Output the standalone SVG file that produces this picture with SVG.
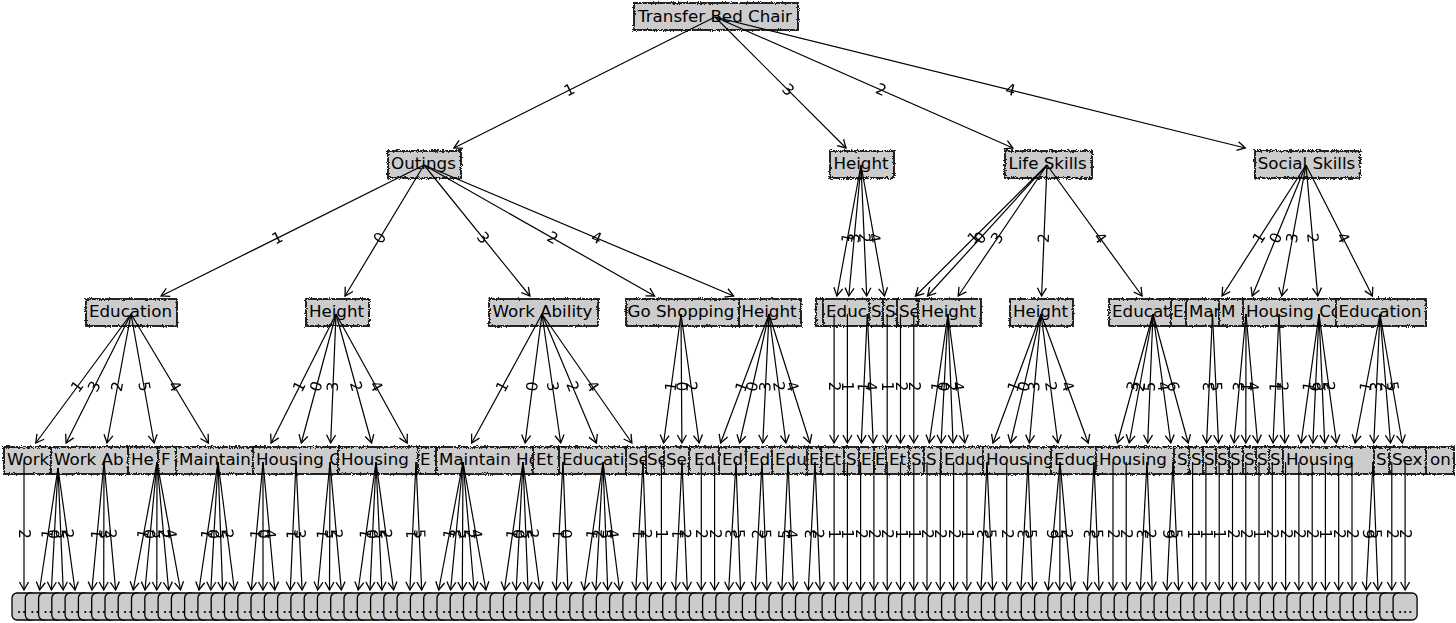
<svg xmlns="http://www.w3.org/2000/svg" xmlns:xlink="http://www.w3.org/1999/xlink" width="1456" height="623" viewBox="0 0 1456 623">
<style>
.nb rect{fill:#cccccc;stroke:#111;stroke-width:1.8;filter:url(#wv)}
.nb text{font-family:'DejaVu Sans',sans-serif;font-size:16.7px;fill:#000}
.nb text.c{text-anchor:middle}
#connectors line{stroke:#000;stroke-width:1.2;fill:none;marker-end:url(#ah)}
#edge-labels{filter:url(#noop)}
#edge-labels text{font-family:'DejaVu Sans',sans-serif;font-size:15.5px;text-anchor:middle;dominant-baseline:central;fill:#000}
</style>
<defs>
<filter id="wv" x="-30%" y="-25%" width="160%" height="150%">
<feTurbulence type="turbulence" baseFrequency="0.45" numOctaves="1" seed="5" result="t"/>
<feDisplacementMap in="SourceGraphic" in2="t" scale="3" xChannelSelector="R" yChannelSelector="G"/>
</filter>
<filter id="noop" x="0" y="0" width="1" height="1"><feOffset dx="0" dy="0"/></filter>
<marker id="ah" viewBox="-10 -6 12 12" markerWidth="12" markerHeight="12" refX="0" refY="0" orient="auto" markerUnits="userSpaceOnUse">
<path d="M-8,-4.5 L0,0 L-8,4.5" fill="none" stroke="#000" stroke-width="1.3"/>
</marker>
<g id="lf">
<rect x="-12" y="593" width="24" height="27" rx="5" fill="#cccccc" stroke="#000" stroke-width="1.3"/>
<text x="0" y="613" font-family="DejaVu Sans, sans-serif" font-size="16" text-anchor="middle">...</text>
</g>
</defs>
<rect width="1456" height="623" fill="#fff"/>

<g id="leaves">
<use id="leaf000" href="#lf" x="24"/><use id="leaf001" href="#lf" x="37.3"/><use id="leaf002" href="#lf" x="50.6"/><use id="leaf003" href="#lf" x="63.8"/><use id="leaf004" href="#lf" x="77.1"/>
<use id="leaf005" href="#lf" x="90.4"/><use id="leaf006" href="#lf" x="103.7"/><use id="leaf007" href="#lf" x="117"/><use id="leaf008" href="#lf" x="130.2"/><use id="leaf009" href="#lf" x="143.5"/>
<use id="leaf010" href="#lf" x="156.8"/><use id="leaf011" href="#lf" x="170.1"/><use id="leaf012" href="#lf" x="183.4"/><use id="leaf013" href="#lf" x="196.6"/><use id="leaf014" href="#lf" x="209.9"/>
<use id="leaf015" href="#lf" x="223.2"/><use id="leaf016" href="#lf" x="236.5"/><use id="leaf017" href="#lf" x="249.8"/><use id="leaf018" href="#lf" x="263"/><use id="leaf019" href="#lf" x="276.3"/>
<use id="leaf020" href="#lf" x="289.6"/><use id="leaf021" href="#lf" x="302.9"/><use id="leaf022" href="#lf" x="316.2"/><use id="leaf023" href="#lf" x="329.4"/><use id="leaf024" href="#lf" x="342.7"/>
<use id="leaf025" href="#lf" x="356"/><use id="leaf026" href="#lf" x="369.3"/><use id="leaf027" href="#lf" x="382.6"/><use id="leaf028" href="#lf" x="395.8"/><use id="leaf029" href="#lf" x="409.1"/>
<use id="leaf030" href="#lf" x="422.4"/><use id="leaf031" href="#lf" x="435.7"/><use id="leaf032" href="#lf" x="449"/><use id="leaf033" href="#lf" x="462.2"/><use id="leaf034" href="#lf" x="475.5"/>
<use id="leaf035" href="#lf" x="488.8"/><use id="leaf036" href="#lf" x="502.1"/><use id="leaf037" href="#lf" x="515.4"/><use id="leaf038" href="#lf" x="528.6"/><use id="leaf039" href="#lf" x="541.9"/>
<use id="leaf040" href="#lf" x="555.2"/><use id="leaf041" href="#lf" x="568.5"/><use id="leaf042" href="#lf" x="581.8"/><use id="leaf043" href="#lf" x="595"/><use id="leaf044" href="#lf" x="608.3"/>
<use id="leaf045" href="#lf" x="621.6"/><use id="leaf046" href="#lf" x="634.9"/><use id="leaf047" href="#lf" x="648.2"/><use id="leaf048" href="#lf" x="661.4"/><use id="leaf049" href="#lf" x="674.7"/>
<use id="leaf050" href="#lf" x="688"/><use id="leaf051" href="#lf" x="701.3"/><use id="leaf052" href="#lf" x="714.6"/><use id="leaf053" href="#lf" x="727.8"/><use id="leaf054" href="#lf" x="741.1"/>
<use id="leaf055" href="#lf" x="754.4"/><use id="leaf056" href="#lf" x="767.7"/><use id="leaf057" href="#lf" x="781"/><use id="leaf058" href="#lf" x="794.2"/><use id="leaf059" href="#lf" x="807.5"/>
<use id="leaf060" href="#lf" x="820.8"/><use id="leaf061" href="#lf" x="834.1"/><use id="leaf062" href="#lf" x="847.4"/><use id="leaf063" href="#lf" x="860.6"/><use id="leaf064" href="#lf" x="873.9"/>
<use id="leaf065" href="#lf" x="887.2"/><use id="leaf066" href="#lf" x="900.5"/><use id="leaf067" href="#lf" x="913.8"/><use id="leaf068" href="#lf" x="927"/><use id="leaf069" href="#lf" x="940.3"/>
<use id="leaf070" href="#lf" x="953.6"/><use id="leaf071" href="#lf" x="966.9"/><use id="leaf072" href="#lf" x="980.2"/><use id="leaf073" href="#lf" x="993.4"/><use id="leaf074" href="#lf" x="1006.7"/>
<use id="leaf075" href="#lf" x="1020"/><use id="leaf076" href="#lf" x="1033.3"/><use id="leaf077" href="#lf" x="1046.6"/><use id="leaf078" href="#lf" x="1059.8"/><use id="leaf079" href="#lf" x="1073.1"/>
<use id="leaf080" href="#lf" x="1086.4"/><use id="leaf081" href="#lf" x="1099.7"/><use id="leaf082" href="#lf" x="1113"/><use id="leaf083" href="#lf" x="1126.2"/><use id="leaf084" href="#lf" x="1139.5"/>
<use id="leaf085" href="#lf" x="1152.8"/><use id="leaf086" href="#lf" x="1166.1"/><use id="leaf087" href="#lf" x="1179.4"/><use id="leaf088" href="#lf" x="1192.6"/><use id="leaf089" href="#lf" x="1205.9"/>
<use id="leaf090" href="#lf" x="1219.2"/><use id="leaf091" href="#lf" x="1232.5"/><use id="leaf092" href="#lf" x="1245.8"/><use id="leaf093" href="#lf" x="1259"/><use id="leaf094" href="#lf" x="1272.3"/>
<use id="leaf095" href="#lf" x="1285.6"/><use id="leaf096" href="#lf" x="1298.9"/><use id="leaf097" href="#lf" x="1312.2"/><use id="leaf098" href="#lf" x="1325.4"/><use id="leaf099" href="#lf" x="1338.7"/>
<use id="leaf100" href="#lf" x="1352"/><use id="leaf101" href="#lf" x="1365.3"/><use id="leaf102" href="#lf" x="1378.6"/><use id="leaf103" href="#lf" x="1391.8"/><use id="leaf104" href="#lf" x="1405.1"/>
</g>

<g id="level3">
<g id="n3-01" class="nb"><rect x="3" y="446" width="50" height="27"/><text x="7" y="464.5">Work</text></g>
<g id="n3-02" class="nb"><rect x="50" y="446" width="80" height="27"/><text x="54" y="464.5">Work Ab</text></g>
<g id="n3-03" class="nb"><rect x="127" y="446" width="33" height="27"/><text x="131" y="464.5">He</text></g>
<g id="n3-04" class="nb"><rect x="157" y="446" width="21" height="27"/><text x="161" y="464.5">F</text></g>
<g id="n3-05" class="nb"><rect x="175" y="446" width="80" height="27"/><text x="179" y="464.5">Maintain</text></g>
<g id="n3-06" class="nb"><rect x="252" y="446" width="88" height="27"/><text x="256" y="464.5">Housing C</text></g>
<g id="n3-07" class="nb"><rect x="337" y="446" width="83" height="27"/><text x="341" y="464.5">Housing</text></g>
<g id="n3-08" class="nb"><rect x="417" y="446" width="21" height="27"/><text x="420" y="464.5">E</text></g>
<g id="n3-09" class="nb"><rect x="435" y="446" width="100" height="27"/><text x="439" y="464.5">Maintain Ho</text></g>
<g id="n3-10" class="nb"><rect x="532" y="446" width="29" height="27"/><text x="536" y="464.5">Et</text></g>
<g id="n3-11" class="nb"><rect x="558" y="446" width="70" height="27"/><text x="562" y="464.5">Educati</text></g>
<g id="n3-12" class="nb"><rect x="625" y="446" width="23" height="27"/><text x="628" y="464.5">Se</text></g>
<g id="n3-13" class="nb"><rect x="645" y="446" width="21" height="27"/><text x="647" y="464.5">Se</text></g>
<g id="n3-14" class="nb"><rect x="663" y="446" width="28" height="27"/><text x="666" y="464.5">Se</text></g>
<g id="n3-15" class="nb"><rect x="688" y="446" width="33" height="27"/><text x="694" y="464.5">Ed</text></g>
<g id="n3-16" class="nb"><rect x="718" y="446" width="30" height="27"/><text x="722" y="464.5">Ed</text></g>
<g id="n3-17" class="nb"><rect x="745" y="446" width="29" height="27"/><text x="749" y="464.5">Ed</text></g>
<g id="n3-18" class="nb"><rect x="771" y="446" width="38" height="27"/><text x="775" y="464.5">Edu</text></g>
<g id="n3-19" class="nb"><rect x="806" y="446" width="17" height="27"/><text x="809" y="464.5">E</text></g>
<g id="n3-20" class="nb"><rect x="820" y="446" width="26" height="27"/><text x="824" y="464.5">Et</text></g>
<g id="n3-21" class="nb"><rect x="843" y="446" width="18" height="27"/><text x="846" y="464.5">S</text></g>
<g id="n3-22" class="nb"><rect x="858" y="446" width="18" height="27"/><text x="861" y="464.5">E</text></g>
<g id="n3-23" class="nb"><rect x="873" y="446" width="15" height="27"/><text x="875" y="464.5">E</text></g>
<g id="n3-24" class="nb"><rect x="885" y="446" width="26" height="27"/><text x="889" y="464.5">Et</text></g>
<g id="n3-25" class="nb"><rect x="908" y="446" width="18" height="27"/><text x="911" y="464.5">S</text></g>
<g id="n3-26" class="nb"><rect x="923" y="446" width="20" height="27"/><text x="926" y="464.5">S</text></g>
<g id="n3-27" class="nb"><rect x="940" y="446" width="45" height="27"/><text x="944" y="464.5">Educ</text></g>
<g id="n3-28" class="nb"><rect x="982" y="446" width="71" height="27"/><text x="986" y="464.5">Housing</text></g>
<g id="n3-29" class="nb"><rect x="1050" y="446" width="48" height="27"/><text x="1054" y="464.5">Educ</text></g>
<g id="n3-30" class="nb"><rect x="1095" y="446" width="81" height="27"/><text x="1099" y="464.5">Housing</text></g>
<g id="n3-31" class="nb"><rect x="1173" y="446" width="18" height="27"/><text x="1177" y="464.5">S</text></g>
<g id="n3-32" class="nb"><rect x="1188" y="446" width="17" height="27"/><text x="1191" y="464.5">S</text></g>
<g id="n3-33" class="nb"><rect x="1202" y="446" width="16" height="27"/><text x="1204" y="464.5">S</text></g>
<g id="n3-34" class="nb"><rect x="1215" y="446" width="16" height="27"/><text x="1217" y="464.5">S</text></g>
<g id="n3-35" class="nb"><rect x="1228" y="446" width="17" height="27"/><text x="1230" y="464.5">S</text></g>
<g id="n3-36" class="nb"><rect x="1242" y="446" width="16" height="27"/><text x="1244" y="464.5">S</text></g>
<g id="n3-37" class="nb"><rect x="1255" y="446" width="16" height="27"/><text x="1257" y="464.5">S</text></g>
<g id="n3-38" class="nb"><rect x="1268" y="446" width="17" height="27"/><text x="1270" y="464.5">S</text></g>
<g id="n3-39" class="nb"><rect x="1282" y="446" width="94" height="27"/><text x="1286" y="464.5">Housing</text></g>
<g id="n3-40" class="nb"><rect x="1373" y="446" width="18" height="27"/><text x="1376" y="464.5">S</text></g>
<g id="n3-41" class="nb"><rect x="1388" y="446" width="40" height="27"/><text x="1392" y="464.5">Sex</text></g>
<g id="n3-42" class="nb"><rect x="1425" y="446" width="28" height="27"/><text x="1430" y="464.5">on</text></g>
</g>

<g id="level2">
<g id="n2-education" class="nb"><rect x="85" y="298" width="91" height="27"/><text class="c" x="130.5" y="316.5">Education</text></g>
<g id="n2-height-a" class="nb"><rect x="305" y="298" width="63" height="27"/><text class="c" x="336.5" y="316.5">Height</text></g>
<g id="n2-work-ability" class="nb"><rect x="488" y="298" width="109" height="27"/><text class="c" x="542.5" y="316.5">Work Ability</text></g>
<g id="n2-go-shopping" class="nb"><rect x="625" y="298" width="116" height="27"/><text class="c" x="681" y="316.5">Go Shopping</text></g>
<g id="n2-height-b" class="nb"><rect x="738" y="298" width="62" height="27"/><text class="c" x="769" y="316.5">Height</text></g>
<g id="n2-blank" class="nb"><rect x="815" y="298" width="10" height="27"/></g>
<g id="n2-educ" class="nb"><rect x="822" y="298" width="49" height="27"/><text x="826" y="316.5">Educ</text></g>
<g id="n2-s1" class="nb"><rect x="868" y="298" width="17" height="27"/><text x="871" y="316.5">S</text></g>
<g id="n2-s2" class="nb"><rect x="882" y="298" width="17" height="27"/><text x="885" y="316.5">S</text></g>
<g id="n2-se" class="nb"><rect x="896" y="298" width="24" height="27"/><text x="899" y="316.5">Se</text></g>
<g id="n2-height-c" class="nb"><rect x="917" y="298" width="63" height="27"/><text class="c" x="948.5" y="316.5">Height</text></g>
<g id="n2-height-d" class="nb"><rect x="1009" y="298" width="63" height="27"/><text class="c" x="1040.5" y="316.5">Height</text></g>
<g id="n2-educat" class="nb"><rect x="1108" y="298" width="65" height="27"/><text x="1112" y="316.5">Educat</text></g>
<g id="n2-e" class="nb"><rect x="1170" y="298" width="18" height="27"/><text x="1173" y="316.5">E</text></g>
<g id="n2-mar" class="nb"><rect x="1185" y="298" width="36" height="27"/><text x="1189" y="316.5">Mar</text></g>
<g id="n2-m" class="nb"><rect x="1218" y="298" width="27" height="27"/><text x="1221" y="316.5">M</text></g>
<g id="n2-housing" class="nb"><rect x="1242" y="298" width="96" height="27"/><text x="1246" y="316.5">Housing Co</text></g>
<g id="n2-education-b" class="nb"><rect x="1335" y="298" width="90" height="27"/><text class="c" x="1380" y="316.5">Education</text></g>
</g>

<g id="level1">
<g id="n1-outings" class="nb"><rect x="387" y="150" width="73" height="27"/><text class="c" x="423.5" y="168.5">Outings</text></g>
<g id="n1-height" class="nb"><rect x="829" y="150" width="64" height="27"/><text class="c" x="861" y="168.5">Height</text></g>
<g id="n1-life-skills" class="nb"><rect x="1004" y="150" width="87" height="27"/><text class="c" x="1047.5" y="168.5">Life Skills</text></g>
<g id="n1-social-skills" class="nb"><rect x="1254" y="150" width="105" height="27"/><text class="c" x="1306.5" y="168.5">Social Skills</text></g>
</g>

<g id="n0-root" class="nb"><rect x="633" y="2" width="164" height="27"/><text class="c" x="715" y="21.5">Transfer Bed Chair</text></g>

<g id="connectors">
<line x1="715" y1="17" x2="453.9" y2="148"/><line x1="715" y1="17" x2="846" y2="148"/><line x1="715" y1="17" x2="1012.9" y2="148"/><line x1="715" y1="17" x2="1245.3" y2="148"/>
<line x1="424" y1="165" x2="161.1" y2="296"/><line x1="424" y1="165" x2="345" y2="296"/><line x1="424" y1="165" x2="529.9" y2="296"/><line x1="424" y1="165" x2="654.6" y2="296"/><line x1="424" y1="165" x2="733.6" y2="296"/>
<line x1="861" y1="165" x2="836.9" y2="296"/><line x1="861" y1="165" x2="848.8" y2="296"/><line x1="861" y1="165" x2="866.7" y2="296"/><line x1="861" y1="165" x2="884.5" y2="296"/>
<line x1="1047" y1="165" x2="915.5" y2="296"/><line x1="1047" y1="165" x2="927.5" y2="296"/><line x1="1047" y1="165" x2="958.2" y2="296"/><line x1="1047" y1="165" x2="1041.6" y2="296"/><line x1="1047" y1="165" x2="1142.1" y2="296"/>
<line x1="1306" y1="165" x2="1222.1" y2="296"/><line x1="1306" y1="165" x2="1252.2" y2="296"/><line x1="1306" y1="165" x2="1281.8" y2="296"/><line x1="1306" y1="165" x2="1317.7" y2="296"/><line x1="1306" y1="165" x2="1372.4" y2="296"/>

<line x1="131" y1="314" x2="35.8" y2="443"/><line x1="131" y1="314" x2="66.1" y2="443"/><line x1="131" y1="314" x2="107" y2="443"/><line x1="131" y1="314" x2="154.1" y2="443"/><line x1="131" y1="314" x2="208.4" y2="443"/>
<line x1="336" y1="314" x2="271.1" y2="443"/><line x1="336" y1="314" x2="301.3" y2="443"/><line x1="336" y1="314" x2="330.7" y2="443"/><line x1="336" y1="314" x2="371.6" y2="443"/><line x1="336" y1="314" x2="407.2" y2="443"/>
<line x1="542" y1="314" x2="471.7" y2="443"/><line x1="542" y1="314" x2="525.1" y2="443"/><line x1="542" y1="314" x2="560.7" y2="443"/><line x1="542" y1="314" x2="596.3" y2="443"/><line x1="542" y1="314" x2="631.9" y2="443"/>
<line x1="681" y1="314" x2="663.6" y2="443"/><line x1="681" y1="314" x2="681.9" y2="443"/><line x1="681" y1="314" x2="699.1" y2="443"/>
<line x1="769" y1="314" x2="720.6" y2="443"/><line x1="769" y1="314" x2="739.6" y2="443"/><line x1="769" y1="314" x2="762.8" y2="443"/><line x1="769" y1="314" x2="785.9" y2="443"/><line x1="769" y1="314" x2="809.9" y2="443"/>
<line x1="834.1" y1="314" x2="834.1" y2="443"/><line x1="847.4" y1="314" x2="847.4" y2="443"/><line x1="867.3" y1="314" x2="861.3" y2="443"/><line x1="867.3" y1="314" x2="873.2" y2="443"/><line x1="887.2" y1="314" x2="887.2" y2="443"/>
<line x1="900.5" y1="314" x2="900.5" y2="443"/><line x1="913.8" y1="314" x2="913.8" y2="443"/>
<line x1="948" y1="314" x2="929.3" y2="443"/><line x1="948" y1="314" x2="941.1" y2="443"/><line x1="948" y1="314" x2="953" y2="443"/><line x1="948" y1="314" x2="964.8" y2="443"/>
<line x1="1041" y1="314" x2="993" y2="443"/><line x1="1041" y1="314" x2="1010.5" y2="443"/><line x1="1041" y1="314" x2="1029.4" y2="443"/><line x1="1041" y1="314" x2="1057.9" y2="443"/><line x1="1041" y1="314" x2="1088.2" y2="443"/>
<line x1="1153" y1="314" x2="1117.4" y2="443"/><line x1="1153" y1="314" x2="1129.2" y2="443"/><line x1="1153" y1="314" x2="1147.7" y2="443"/><line x1="1153" y1="314" x2="1170.8" y2="443"/><line x1="1153" y1="314" x2="1188.2" y2="443"/>
<line x1="1212.5" y1="314" x2="1206.6" y2="443"/><line x1="1212.5" y1="314" x2="1218.5" y2="443"/>
<line x1="1246" y1="314" x2="1234" y2="443"/><line x1="1246" y1="314" x2="1245.8" y2="443"/><line x1="1246" y1="314" x2="1257.6" y2="443"/>
<line x1="1279" y1="314" x2="1273" y2="443"/><line x1="1279" y1="314" x2="1284.9" y2="443"/>
<line x1="1319" y1="314" x2="1301.1" y2="443"/><line x1="1319" y1="314" x2="1312.9" y2="443"/><line x1="1319" y1="314" x2="1324.7" y2="443"/><line x1="1319" y1="314" x2="1336.5" y2="443"/>
<line x1="1380" y1="314" x2="1355.1" y2="443"/><line x1="1380" y1="314" x2="1373.8" y2="443"/><line x1="1380" y1="314" x2="1390.5" y2="443"/><line x1="1380" y1="314" x2="1402.3" y2="443"/>

<line x1="24" y1="462" x2="24" y2="590"/>
<line x1="58" y1="468" x2="39.6" y2="590"/><line x1="58" y1="468" x2="51.4" y2="590"/><line x1="58" y1="468" x2="63.2" y2="590"/><line x1="58" y1="468" x2="75" y2="590"/>
<line x1="104" y1="462" x2="91.9" y2="590"/><line x1="104" y1="462" x2="103.7" y2="590"/><line x1="104" y1="462" x2="115.6" y2="590"/>
<line x1="157" y1="462" x2="133.2" y2="590"/><line x1="157" y1="462" x2="145" y2="590"/><line x1="157" y1="462" x2="156.8" y2="590"/><line x1="157" y1="462" x2="168.6" y2="590"/><line x1="157" y1="462" x2="180.5" y2="590"/>
<line x1="218" y1="462" x2="199" y2="590"/><line x1="218" y1="462" x2="210.8" y2="590"/><line x1="218" y1="462" x2="222.6" y2="590"/><line x1="218" y1="462" x2="234.4" y2="590"/>
<line x1="263" y1="462" x2="251.3" y2="590"/><line x1="263" y1="462" x2="263" y2="590"/><line x1="263" y1="462" x2="274.8" y2="590"/>
<line x1="296" y1="462" x2="290.3" y2="590"/><line x1="296" y1="462" x2="302.1" y2="590"/>
<line x1="330" y1="462" x2="317.7" y2="590"/><line x1="330" y1="462" x2="329.5" y2="590"/><line x1="330" y1="462" x2="341.3" y2="590"/>
<line x1="376" y1="462" x2="358.2" y2="590"/><line x1="376" y1="462" x2="370" y2="590"/><line x1="376" y1="462" x2="381.9" y2="590"/><line x1="376" y1="462" x2="393.6" y2="590"/>
<line x1="416" y1="462" x2="409.9" y2="590"/><line x1="416" y1="462" x2="421.7" y2="590"/>
<line x1="463" y1="462" x2="438.7" y2="590"/><line x1="463" y1="462" x2="450.6" y2="590"/><line x1="463" y1="462" x2="462.3" y2="590"/><line x1="463" y1="462" x2="474.1" y2="590"/><line x1="463" y1="462" x2="485.9" y2="590"/>
<line x1="523" y1="462" x2="504.4" y2="590"/><line x1="523" y1="462" x2="516.2" y2="590"/><line x1="523" y1="462" x2="528" y2="590"/><line x1="523" y1="462" x2="539.8" y2="590"/>
<line x1="563" y1="462" x2="556.1" y2="590"/><line x1="563" y1="462" x2="567.9" y2="590"/>
<line x1="603" y1="462" x2="584.2" y2="590"/><line x1="603" y1="462" x2="595.9" y2="590"/><line x1="603" y1="462" x2="607.7" y2="590"/><line x1="603" y1="462" x2="619.5" y2="590"/>
<line x1="643" y1="462" x2="635.8" y2="590"/><line x1="643" y1="462" x2="647.6" y2="590"/>
<line x1="661.4" y1="462" x2="661.4" y2="590"/>
<line x1="682" y1="462" x2="675.5" y2="590"/><line x1="682" y1="462" x2="687.3" y2="590"/>
<line x1="701.3" y1="462" x2="701.3" y2="590"/><line x1="714.6" y1="462" x2="714.6" y2="590"/>
<line x1="736" y1="462" x2="728.7" y2="590"/><line x1="736" y1="462" x2="740.5" y2="590"/>
<line x1="762" y1="462" x2="755.2" y2="590"/><line x1="762" y1="462" x2="767.1" y2="590"/>
<line x1="788" y1="462" x2="781.8" y2="590"/><line x1="788" y1="462" x2="793.5" y2="590"/>
<line x1="815" y1="462" x2="808.3" y2="590"/><line x1="815" y1="462" x2="820.2" y2="590"/>
<line x1="834.1" y1="462" x2="834.1" y2="590"/><line x1="847.4" y1="462" x2="847.4" y2="590"/><line x1="860.6" y1="462" x2="860.6" y2="590"/><line x1="873.9" y1="462" x2="873.9" y2="590"/>
<line x1="887.2" y1="462" x2="887.2" y2="590"/><line x1="900.5" y1="462" x2="900.5" y2="590"/><line x1="913.8" y1="462" x2="913.8" y2="590"/><line x1="927" y1="462" x2="927" y2="590"/>
<line x1="940.3" y1="462" x2="940.3" y2="590"/><line x1="953.6" y1="462" x2="953.6" y2="590"/><line x1="966.9" y1="462" x2="966.9" y2="590"/>
<line x1="987" y1="462" x2="981" y2="590"/><line x1="987" y1="462" x2="992.7" y2="590"/>
<line x1="1006.7" y1="462" x2="1006.7" y2="590"/>
<line x1="1028" y1="462" x2="1020.9" y2="590"/><line x1="1028" y1="462" x2="1032.7" y2="590"/>
<line x1="1060" y1="462" x2="1048.1" y2="590"/><line x1="1060" y1="462" x2="1059.8" y2="590"/><line x1="1060" y1="462" x2="1071.6" y2="590"/>
<line x1="1094" y1="462" x2="1087.2" y2="590"/><line x1="1094" y1="462" x2="1099.1" y2="590"/>
<line x1="1113" y1="462" x2="1113" y2="590"/><line x1="1126.2" y1="462" x2="1126.2" y2="590"/>
<line x1="1147" y1="462" x2="1140.3" y2="590"/><line x1="1147" y1="462" x2="1152.2" y2="590"/>
<line x1="1173" y1="462" x2="1166.9" y2="590"/><line x1="1173" y1="462" x2="1178.7" y2="590"/>
<line x1="1192.6" y1="462" x2="1192.6" y2="590"/><line x1="1205.9" y1="462" x2="1205.9" y2="590"/><line x1="1219.2" y1="462" x2="1219.2" y2="590"/><line x1="1232.5" y1="462" x2="1232.5" y2="590"/>
<line x1="1245.8" y1="462" x2="1245.8" y2="590"/><line x1="1259" y1="462" x2="1259" y2="590"/><line x1="1272.3" y1="462" x2="1272.3" y2="590"/><line x1="1285.6" y1="462" x2="1285.6" y2="590"/>
<line x1="1298.9" y1="462" x2="1298.9" y2="590"/><line x1="1312.2" y1="462" x2="1312.2" y2="590"/><line x1="1325.4" y1="462" x2="1325.4" y2="590"/><line x1="1338.7" y1="462" x2="1338.7" y2="590"/>
<line x1="1352" y1="462" x2="1352" y2="590"/>
<line x1="1373" y1="462" x2="1366.2" y2="590"/><line x1="1373" y1="462" x2="1378" y2="590"/>
<line x1="1391.8" y1="462" x2="1391.8" y2="590"/><line x1="1405.1" y1="462" x2="1405.1" y2="590"/>
</g>

<g id="edge-labels">
<text transform="translate(569.5 90) rotate(-26.6)">1</text><text transform="translate(788 90) rotate(45)">3</text><text transform="translate(881 90) rotate(23.7)">2</text><text transform="translate(1010.5 90) rotate(13.9)">4</text>

<text transform="translate(277.5 238) rotate(-26.5)">1</text><text transform="translate(380 238) rotate(-58.9)">0</text><text transform="translate(483 238) rotate(51.1)">3</text><text transform="translate(552.5 238) rotate(29.6)">2</text><text transform="translate(596.5 238) rotate(22.9)">4</text>
<text transform="translate(847.6 238) rotate(-79.6)">1</text><text transform="translate(854.2 238) rotate(-84.7)">3</text><text transform="translate(864.2 238) rotate(87.5)">2</text><text transform="translate(874.1 238) rotate(79.8)">4</text>
<text transform="translate(973.8 238) rotate(-44.9)">1</text><text transform="translate(980.4 238) rotate(-47.6)">0</text><text transform="translate(997.5 238) rotate(-55.9)">3</text><text transform="translate(1044 238) rotate(-87.6)">2</text><text transform="translate(1100 238) rotate(54)">4</text>
<text transform="translate(1259.3 238) rotate(-57.5)">1</text><text transform="translate(1276 238) rotate(-67.7)">0</text><text transform="translate(1292.5 238) rotate(-79.5)">3</text><text transform="translate(1312.5 238) rotate(84.9)">2</text><text transform="translate(1343 238) rotate(63.1)">4</text>

<text transform="translate(77.5 386.5) rotate(-53.6)">1</text><text transform="translate(94.5 386.5) rotate(-63.3)">3</text><text transform="translate(117.5 386.5) rotate(-79.5)">2</text><text transform="translate(144 386.5) rotate(79.8)">5</text><text transform="translate(174.5 386.5) rotate(59)">4</text>
<text transform="translate(299.5 386.5) rotate(-63.3)">1</text><text transform="translate(316.5 386.5) rotate(-74.9)">0</text><text transform="translate(333 386.5) rotate(-87.6)">3</text><text transform="translate(356 386.5) rotate(74.6)">2</text><text transform="translate(376 386.5) rotate(61.1)">4</text>
<text transform="translate(502.5 386.5) rotate(-61.4)">1</text><text transform="translate(532.5 386.5) rotate(-82.5)">0</text><text transform="translate(552.5 386.5) rotate(81.8)">3</text><text transform="translate(572.5 386.5) rotate(67.2)">2</text><text transform="translate(592.5 386.5) rotate(55.1)">4</text>
<text transform="translate(671.2 386.5) rotate(-82.3)">1</text><text transform="translate(681.5 386.5) rotate(89.6)">0</text><text transform="translate(691.2 386.5) rotate(82)">2</text>
<text transform="translate(741.8 386.5) rotate(-69.4)">1</text><text transform="translate(752.5 386.5) rotate(-77.2)">0</text><text transform="translate(765.5 386.5) rotate(-87.2)">3</text><text transform="translate(778.5 386.5) rotate(82.5)">2</text><text transform="translate(792 386.5) rotate(72.4)">4</text>
<text transform="translate(834.1 386.5) rotate(90)">2</text><text transform="translate(847.4 386.5) rotate(90)">1</text><text transform="translate(864 386.5) rotate(-87.4)">1</text><text transform="translate(870.6 386.5) rotate(87.4)">4</text><text transform="translate(887.2 386.5) rotate(90)">1</text>
<text transform="translate(900.5 386.5) rotate(90)">2</text><text transform="translate(913.8 386.5) rotate(90)">2</text>
<text transform="translate(937.5 386.5) rotate(-81.8)">1</text><text transform="translate(944.2 386.5) rotate(-87)">0</text><text transform="translate(950.8 386.5) rotate(87.8)">2</text><text transform="translate(957.5 386.5) rotate(82.6)">4</text>
<text transform="translate(1014 386.5) rotate(-69.6)">1</text><text transform="translate(1023.9 386.5) rotate(-76.7)">0</text><text transform="translate(1034.5 386.5) rotate(-84.9)">3</text><text transform="translate(1050.5 386.5) rotate(82.5)">2</text><text transform="translate(1067.5 386.5) rotate(69.9)">4</text>
<text transform="translate(1133 386.5) rotate(-74.6)">3</text><text transform="translate(1139.6 386.5) rotate(-79.5)">2</text><text transform="translate(1150 386.5) rotate(-87.6)">5</text><text transform="translate(1163 386.5) rotate(82.1)">4</text><text transform="translate(1172.8 386.5) rotate(74.7)">6</text>
<text transform="translate(1209.2 386.5) rotate(-87.4)">3</text><text transform="translate(1215.9 386.5) rotate(87.4)">5</text>
<text transform="translate(1239.2 386.5) rotate(-84.7)">3</text><text transform="translate(1245.9 386.5) rotate(90)">1</text><text transform="translate(1252.5 386.5) rotate(84.9)">4</text>
<text transform="translate(1275.7 386.5) rotate(-87.4)">1</text><text transform="translate(1282.3 386.5) rotate(87.4)">2</text>
<text transform="translate(1309 386.5) rotate(-82.1)">1</text><text transform="translate(1315.6 386.5) rotate(-87.3)">6</text><text transform="translate(1322.2 386.5) rotate(87.5)">5</text><text transform="translate(1328.9 386.5) rotate(82.3)">2</text>
<text transform="translate(1366 386.5) rotate(-79.1)">1</text><text transform="translate(1376.5 386.5) rotate(-87.2)">3</text><text transform="translate(1385.9 386.5) rotate(85.3)">2</text><text transform="translate(1392.6 386.5) rotate(80.2)">5</text>

<text transform="translate(24 534) rotate(90)">2</text>
<text transform="translate(47.7 534) rotate(-81.8)">1</text><text transform="translate(54.3 534) rotate(-87.1)">0</text><text transform="translate(60.9 534) rotate(87.7)">5</text><text transform="translate(67.6 534) rotate(82.4)">2</text>
<text transform="translate(97.2 534) rotate(-84.6)">1</text><text transform="translate(103.9 534) rotate(90)">3</text><text transform="translate(110.5 534) rotate(84.8)">2</text>
<text transform="translate(143.6 534) rotate(-79.5)">1</text><text transform="translate(150.3 534) rotate(-84.6)">0</text><text transform="translate(156.9 534) rotate(90)">5</text><text transform="translate(163.6 534) rotate(84.8)">2</text><text transform="translate(170.2 534) rotate(79.6)">4</text>
<text transform="translate(207.3 534) rotate(-81.5)">1</text><text transform="translate(214 534) rotate(-86.8)">0</text><text transform="translate(220.6 534) rotate(87.9)">5</text><text transform="translate(227.3 534) rotate(82.7)">2</text>
<text transform="translate(256.4 534) rotate(-84.8)">1</text><text transform="translate(263 534) rotate(90)">0</text><text transform="translate(269.7 534) rotate(84.7)">4</text>
<text transform="translate(292.8 534) rotate(-87.5)">1</text><text transform="translate(299.5 534) rotate(87.3)">3</text>
<text transform="translate(323.1 534) rotate(-84.5)">1</text><text transform="translate(329.7 534) rotate(90)">5</text><text transform="translate(336.4 534) rotate(85)">2</text>
<text transform="translate(366 534) rotate(-82.1)">1</text><text transform="translate(372.7 534) rotate(-87.3)">0</text><text transform="translate(379.3 534) rotate(87.4)">5</text><text transform="translate(385.9 534) rotate(82.2)">2</text>
<text transform="translate(412.6 534) rotate(-87.3)">1</text><text transform="translate(419.2 534) rotate(87.5)">5</text>
<text transform="translate(449.4 534) rotate(-79.3)">1</text><text transform="translate(456 534) rotate(-84.4)">3</text><text transform="translate(462.6 534) rotate(90)">5</text><text transform="translate(469.3 534) rotate(85)">2</text><text transform="translate(475.9 534) rotate(79.8)">4</text>
<text transform="translate(512.6 534) rotate(-81.7)">1</text><text transform="translate(519.2 534) rotate(-87)">0</text><text transform="translate(525.8 534) rotate(87.8)">5</text><text transform="translate(532.5 534) rotate(82.5)">2</text>
<text transform="translate(559.1 534) rotate(-86.9)">1</text><text transform="translate(565.8 534) rotate(87.8)">0</text>
<text transform="translate(592.4 534) rotate(-81.6)">1</text><text transform="translate(599 534) rotate(-86.8)">2</text><text transform="translate(605.7 534) rotate(87.9)">5</text><text transform="translate(612.3 534) rotate(82.6)">4</text>
<text transform="translate(639 534) rotate(-86.8)">1</text><text transform="translate(645.6 534) rotate(87.9)">2</text>
<text transform="translate(661.4 534) rotate(90)">1</text>
<text transform="translate(678.4 534) rotate(-87.1)">1</text><text transform="translate(685 534) rotate(87.6)">2</text>
<text transform="translate(701.3 534) rotate(90)">2</text><text transform="translate(714.6 534) rotate(90)">2</text>
<text transform="translate(731.9 534) rotate(-86.7)">3</text><text transform="translate(738.6 534) rotate(88)">5</text>
<text transform="translate(758.2 534) rotate(-87)">2</text><text transform="translate(764.9 534) rotate(87.7)">5</text>
<text transform="translate(784.5 534) rotate(-87.2)">5</text><text transform="translate(791.1 534) rotate(87.5)">4</text>
<text transform="translate(811.3 534) rotate(-87)">3</text><text transform="translate(817.9 534) rotate(87.7)">2</text>
<text transform="translate(834.1 534) rotate(90)">1</text><text transform="translate(847.4 534) rotate(90)">1</text><text transform="translate(860.6 534) rotate(90)">2</text><text transform="translate(873.9 534) rotate(90)">2</text>
<text transform="translate(887.2 534) rotate(90)">2</text><text transform="translate(900.5 534) rotate(90)">1</text><text transform="translate(913.8 534) rotate(90)">1</text><text transform="translate(927 534) rotate(90)">2</text>
<text transform="translate(940.3 534) rotate(90)">2</text><text transform="translate(953.6 534) rotate(90)">2</text><text transform="translate(966.9 534) rotate(90)">1</text>
<text transform="translate(983.6 534) rotate(-87.3)">3</text><text transform="translate(990.2 534) rotate(87.5)">5</text>
<text transform="translate(1006.7 534) rotate(90)">2</text>
<text transform="translate(1024 534) rotate(-86.8)">3</text><text transform="translate(1030.7 534) rotate(87.9)">5</text>
<text transform="translate(1053.3 534) rotate(-84.7)">6</text><text transform="translate(1059.9 534) rotate(90)">5</text><text transform="translate(1066.6 534) rotate(84.8)">2</text>
<text transform="translate(1090.2 534) rotate(-87)">3</text><text transform="translate(1096.9 534) rotate(87.7)">5</text>
<text transform="translate(1113 534) rotate(90)">2</text><text transform="translate(1126.2 534) rotate(90)">2</text>
<text transform="translate(1143.3 534) rotate(-87)">3</text><text transform="translate(1149.9 534) rotate(87.7)">2</text>
<text transform="translate(1169.6 534) rotate(-87.3)">6</text><text transform="translate(1176.2 534) rotate(87.5)">5</text>
<text transform="translate(1192.6 534) rotate(90)">1</text><text transform="translate(1205.9 534) rotate(90)">1</text><text transform="translate(1219.2 534) rotate(90)">1</text><text transform="translate(1232.5 534) rotate(90)">2</text>
<text transform="translate(1245.8 534) rotate(90)">2</text><text transform="translate(1259 534) rotate(90)">1</text><text transform="translate(1272.3 534) rotate(90)">2</text><text transform="translate(1285.6 534) rotate(90)">2</text>
<text transform="translate(1298.9 534) rotate(90)">2</text><text transform="translate(1312.2 534) rotate(90)">2</text><text transform="translate(1325.4 534) rotate(90)">1</text><text transform="translate(1338.7 534) rotate(90)">2</text>
<text transform="translate(1352 534) rotate(90)">2</text>
<text transform="translate(1369.2 534) rotate(-87)">6</text><text transform="translate(1375.8 534) rotate(87.8)">5</text>
<text transform="translate(1391.8 534) rotate(90)">2</text><text transform="translate(1405.1 534) rotate(90)">2</text>
</g>
</svg>
